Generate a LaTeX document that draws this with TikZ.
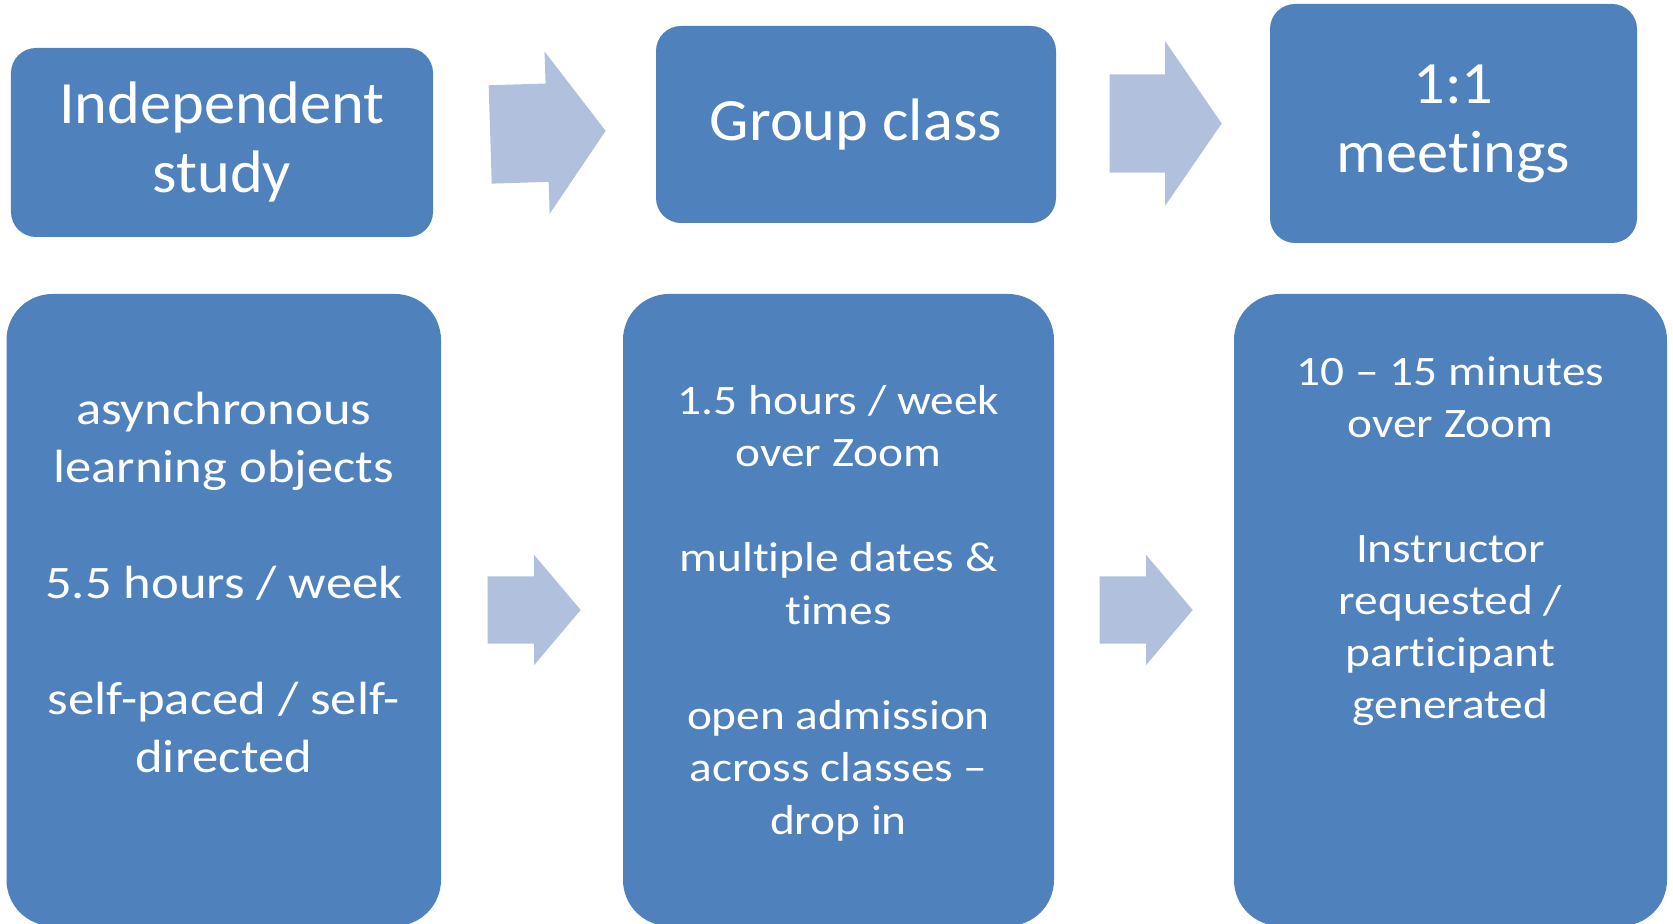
\documentclass[tikz,border=0pt]{standalone}
\usepackage{fontspec}
\setmainfont{Carlito}[Ligatures=CommonOff]
\newfontfamily\headfont[FakeStretch=1.04,Ligatures=CommonOff]{Carlito}
\newfontfamily\bodyfont[FakeStretch=1.13,Ligatures=CommonOff]{Carlito}
\usepackage{tikz}
\usetikzlibrary{positioning,shapes.arrows}
\definecolor{boxblue}{RGB}{79,129,189}
\definecolor{arrowblue}{RGB}{177,193,221}
\tikzset{headbox/.style={rectangle, rounded corners=0.25cm, fill=boxblue, text=white, align=center, inner sep=0pt, font=\headfont\fontsize{17.07pt}{19.63pt}\selectfont}, detailbox/.style={rectangle, rounded corners=0.46cm, fill=boxblue, inner sep=0pt, minimum height=6.32cm}, detailtext/.style={text=white, align=center, inner sep=0pt}, blockarrow/.style={single arrow, fill=arrowblue, inner xsep=0pt, anchor=tail}}
\begin{document}
\begin{tikzpicture}
\useasboundingbox (0,0) rectangle (16.73,9.24);
\node[headbox, minimum width=4.22cm, minimum height=1.89cm] (indep) at (2.22,7.815) {Independent\\study};
\node[headbox, minimum width=4.00cm, minimum height=1.97cm] (group) at (8.56,7.995) {Group class};
\node[headbox, minimum width=3.67cm, minimum height=2.39cm] (meet) at (14.535,8.005) {1:1\\meetings};
\node[detailbox, minimum width=4.345cm] (indepbody) at (2.2375,3.14) {};
\node[detailbox, minimum width=4.31cm] (groupbody) at (8.385,3.14) {};
\node[detailbox, minimum width=4.33cm] (meetbody) at (14.505,3.14) {};
\node[detailtext, below=0.98cm of indepbody.north, font=\bodyfont\fontsize{13.26pt}{16.5pt}\selectfont] (indeptext) {asynchronous\\learning objects\\[16.5pt]5.5 hours / week\\[16.5pt]self-paced / self-\\directed};
\node[detailtext, below=0.91cm of groupbody.north, font=\bodyfont\fontsize{11.92pt}{14.94pt}\selectfont] (grouptext) {1.5 hours / week\\over Zoom\\[14.94pt]multiple dates \&\\times\\[14.94pt]open admission\\across classes –\\drop in};
\node[detailtext, below=0.63cm of meetbody.north, font=\bodyfont\fontsize{11.92pt}{14.8pt}\selectfont] (meettext) {10 – 15 minutes\\over Zoom\\[20.8pt]Instructor\\requested /\\participant\\generated};
\node[blockarrow, minimum height=1.155cm, inner ysep=0.485cm, single arrow head extend=0.32cm, single arrow tip angle=108.4, rotate=1.8] (toparrowa) at (4.895,7.895) {};
\node[blockarrow, minimum height=1.12cm, inner ysep=0.485cm, single arrow head extend=0.33cm, single arrow tip angle=111] (toparrowb) at (11.09,8.005) {};
\node[blockarrow, minimum height=0.93cm, inner ysep=0.33cm, single arrow head extend=0.215cm, single arrow tip angle=99.6] (bodyarrowa) at (4.87,3.14) {};
\node[blockarrow, minimum height=0.93cm, inner ysep=0.33cm, single arrow head extend=0.215cm, single arrow tip angle=99.6] (bodyarrowb) at (10.99,3.14) {};
\end{tikzpicture}
\end{document}
